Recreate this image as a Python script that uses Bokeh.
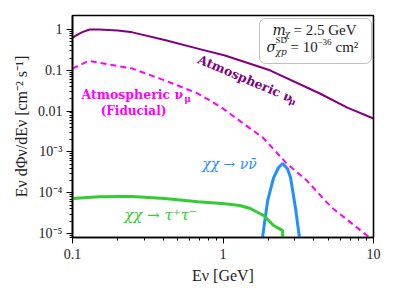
import math
from bokeh.plotting import figure
from bokeh.models import CustomJSTickFormatter, BoxAnnotation, FixedTicker
from bokeh.core.properties import value
from bokeh.embed import file_html
from bokeh.resources import INLINE

# ---- data ----
atm_E = [0.1, 0.115, 0.13, 0.15, 0.2, 0.25, 0.41, 0.68, 1.03, 2.05, 4.4, 6.7, 10.0]
atm_F = [0.63, 0.85, 1.0, 1.0, 0.95, 0.85, 0.55, 0.34, 0.23, 0.10, 0.027, 0.0122, 0.0066]

fid_E = [0.1, 0.128, 0.25, 0.413, 0.68, 0.98, 1.58, 1.84, 2.65, 3.6, 4.89, 5.3, 9.4, 10.0]
fid_F = [0.11, 0.17, 0.11, 0.056, 0.027, 0.0122, 0.00334, 0.00225, 5.2e-4, 2.0e-4, 5.8e-5, 4.3e-5, 8e-6, 7.1e-6]

nu_E = [1.80, 1.83, 1.98, 2.17, 2.34, 2.49, 2.68, 2.81, 3.03, 3.22, 3.25]
nu_F = [3e-6, 8e-6, 6.4e-5, 2.35e-4, 4.15e-4, 5.2e-4, 3.85e-4, 2.35e-4, 4.3e-5, 8e-6, 3e-6]

tau_E = [0.1, 0.15, 0.215, 0.25, 0.41, 0.68, 1.03, 1.29, 1.52, 1.86, 2.17, 2.49, 2.5]
tau_F = [7.2e-5, 8.0e-5, 8.1e-5, 8.1e-5, 7.2e-5, 6.0e-5, 5.4e-5, 4.85e-5, 4.1e-5, 2.76e-5, 1.57e-5, 1.18e-5, 1e-6]

x_major = [0.1, 1.0, 10.0]
y_major = [1e-5, 1e-4, 1e-3, 1e-2, 1e-1, 1.0]

x_lo, x_hi = 0.1, 10.0
y_lo, y_hi = 8e-6, 2.2

PURPLE = "#800080"
MAGENTA = "#ff00ff"
BLUE = "#1e90ff"
GREEN = "#33cc33"
INK = "#222222"
FONT = "Liberation Serif"
SFONT = "DejaVu Serif"

p = figure(width=396, height=297, x_axis_type="log", y_axis_type="log",
           x_range=(x_lo, x_hi), y_range=(y_lo, y_hi),
           output_backend="svg", toolbar_location=None,
           min_border_left=72, min_border_right=23, min_border_top=15, min_border_bottom=60)

p.xgrid.visible = False
p.ygrid.visible = False
p.outline_line_color = "black"
p.outline_line_width = 1.6
p.background_fill_color = "white"
p.border_fill_color = "white"

for ax in (p.xaxis[0], p.yaxis[0]):
    ax.axis_line_width = 1.6
    ax.axis_line_color = "black"
    ax.major_tick_out = 6
    ax.major_tick_in = 0
    ax.minor_tick_out = 3
    ax.minor_tick_in = 0
    ax.major_tick_line_color = "black"
    ax.minor_tick_line_color = "black"
    ax.major_label_text_font = FONT
    ax.major_label_text_font_size = "14px"
    ax.major_label_text_color = INK
    ax.axis_label_text_font = FONT
    ax.axis_label_text_font_size = "16px"
    ax.axis_label_text_font_style = "normal"
    ax.axis_label_text_color = INK

def minors(majors):
    out = []
    for m in majors[:-1]:
        out += [k * m for k in range(2, 10)]
    return out

p.xaxis.ticker = FixedTicker(ticks=x_major, minor_ticks=minors(x_major))
p.yaxis.ticker = FixedTicker(ticks=y_major, minor_ticks=minors([1e-6] + y_major))

fmt_code = """
const e = Math.round(Math.log10(tick));
const sup = {"-":"\u207b","0":"\u2070","1":"\u00b9","2":"\u00b2","3":"\u00b3","4":"\u2074","5":"\u2075","6":"\u2076","7":"\u2077","8":"\u2078","9":"\u2079"};
if (e >= 0) return String(Math.pow(10, e));
if (e >= -2) return (Math.pow(10, e)).toFixed(-e);
return "10" + String(e).split("").map(c => sup[c]).join("");
"""
p.xaxis.formatter = CustomJSTickFormatter(code=fmt_code)
p.yaxis.formatter = CustomJSTickFormatter(code=fmt_code)
p.xaxis.major_label_standoff = 5
p.yaxis.major_label_standoff = 4
p.xaxis.axis_label = "E\u03bd [GeV]"
p.yaxis.axis_label = "E\u03bd d\u03a6\u03bd/dE\u03bd [cm\u207b\u00b2 s\u207b\u00b9]"
p.xaxis.axis_label_standoff = 5
p.yaxis.axis_label_standoff = 5

# ---- curves ----
p.line(atm_E, atm_F, line_color=PURPLE, line_width=2)
p.line(fid_E, fid_F, line_color=MAGENTA, line_width=2, line_dash="6 4")
p.line(nu_E, nu_F, line_color=BLUE, line_width=3)
p.line(tau_E, tau_F, line_color=GREEN, line_width=3)

# ---- annotations (placed by frame pixel position) ----
def pos(xp, yp):
    return 10 ** ((xp - 72) / 150.5 - 1), 10 ** (0.343 - (yp - 15) / 40.8)

def txt(xp, yp, s, color, size, style="normal", align="center", baseline="middle",
        angle=0.0, font=FONT):
    x, y = pos(xp, yp)
    p.text(x=[x], y=[y], text=[s], text_color=color, text_font=value(font),
           text_font_size=size, text_font_style=style, text_align=align,
           text_baseline=baseline, angle=angle)

ang = math.radians(-23)
txt(198, 58, "Atmospheric \u03bd", PURPLE, "12.5px", "bold", align="left", angle=ang, font=SFONT)
txt(292, 101, "\u03bc", PURPLE, "9px", "bold", angle=ang, font=SFONT)

txt(81, 94, "Atmospheric \u03bd", MAGENTA, "12.5px", "bold", align="left", font=SFONT)
txt(187, 98, "\u03bc", MAGENTA, "9px", "bold", font=SFONT)
txt(133, 110, "(Fiducial)", MAGENTA, "12px", "bold", font=SFONT)

txt(229, 163, "\u03c7\u03c7 \u2192 \u03bd\u03bd\u0304", BLUE, "14px", "italic", font=SFONT)
txt(160, 214, "\u03c7\u03c7 \u2192 \u03c4\u207a\u03c4\u207b", GREEN, "15px", "italic", font=SFONT)

bl, bt = pos(259, 18)
br, bb = pos(371, 63)
p.add_layout(BoxAnnotation(left=bl, right=br, top=bt, bottom=bb, fill_color=None,
                           line_color="#333333", line_width=1, border_radius=6))

txt(272, 30, "m", INK, "14px", "italic", align="left", font=SFONT)
txt(284, 34, "\u03c7", INK, "9px", "italic", align="left", font=SFONT)
txt(293, 30, "= 2.5 GeV", INK, "15px", align="left")
txt(266, 47, "\u03c3", INK, "14px", "italic", align="left", font=SFONT)
txt(275, 40, "SD", INK, "9px", align="left")
txt(275, 52, "\u03c7p", INK, "9px", "italic", align="left", font=SFONT)
txt(290, 47, "= 10", INK, "15px", align="left")
txt(317, 42, "\u221236", INK, "9px", align="left")
txt(335, 47, "cm\u00b2", INK, "15px", align="left")

open("out.html", "w").write(file_html(p, INLINE))
